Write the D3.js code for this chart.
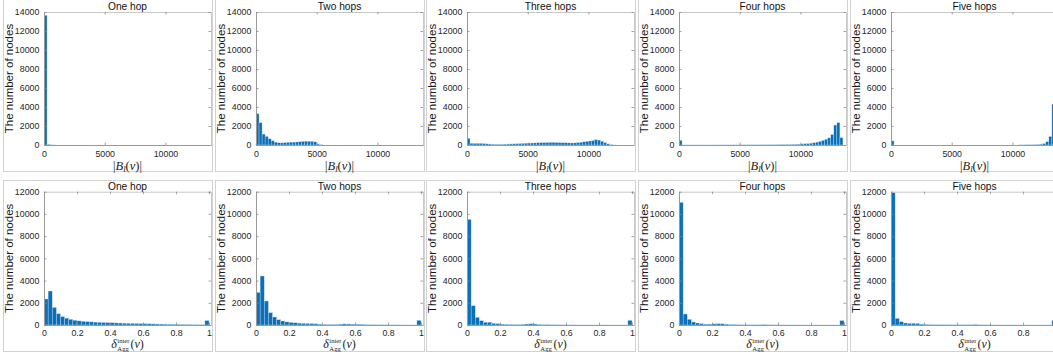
<!DOCTYPE html>
<html>
<head>
<meta charset="utf-8">
<script src="https://cdn.jsdelivr.net/npm/d3@7"></script>
<style>
  body { margin: 0; background: #fff; }
  svg { display: block; }
  text.sans { font-family: "Liberation Sans", Arial, Helvetica, sans-serif; }
</style>
</head>
<body>
<script>
// Panel titles, shared by both rows
var hopTitles = ["One hop", "Two hops", "Three hops", "Four hops", "Five hops"];

// Top row: histogram of |B_l(v)|, bins of 250 nodes starting at 0
var sizeBinWidth = 250;
var sizeMax = 13752;
var sizeTicksX = [0, 5000, 10000];
var sizeTicksY = [0, 2000, 4000, 6000, 8000, 10000, 12000, 14000];

var oneHopSize = [13650, 70, 15, 5];
var twoHopSize = [3300, 2350, 1150, 900, 650, 450, 300, 230, 220, 250, 280, 300, 300, 320, 350,
    380, 400, 400, 380, 330, 100, 30];
var threeHopSize = [700, 180, 160, 170, 170, 150, 120, 100, 90, 80, 80, 80, 90, 100, 110, 120,
    130, 150, 170, 190, 200, 210, 220, 230, 240, 250, 260, 270, 270, 260, 250, 240, 230, 220,
    210, 220, 250, 280, 330, 380, 420, 460, 560, 520, 400, 250, 120, 40, 10];
var fourHopSize = [480, 10, 8, 8, 6, 6, 6, 6, 6, 6, 8, 8, 8, 8, 10, 10, 10, 12, 12, 14, 14, 16,
    16, 18, 18, 20, 20, 22, 25, 28, 30, 35, 40, 45, 50, 55, 60, 70, 80, 90, 110, 130, 150, 180,
    230, 300, 380, 480, 600, 750, 1100, 2100, 2350, 780];
var fiveHopSize = [430, 0, 0, 0, 0, 0, 0, 0, 0, 0, 0, 0, 0, 0, 0, 0, 0, 0, 0, 0, 0, 0, 0, 0, 0,
    0, 0, 0, 0, 0, 0, 0, 0, 0, 0, 0, 0, 0, 0, 0, 0, 0, 10, 15, 20, 25, 30, 40, 60, 90, 150, 350,
    900, 4300];

// Bottom row: histogram of delta_Agg^inter(v), bins of 0.025
var ratioBinWidth = 0.025;
var ratioMax = 1.012;
var ratioTicksX = [0, 0.2, 0.4, 0.6, 0.8, 1];
var ratioTicksY = [0, 2000, 4000, 6000, 8000, 10000, 12000];

var oneHopRatio = [2340, 3060, 1580, 1020, 760, 620, 510, 430, 370, 330, 300, 280, 260, 240, 225,
    210, 200, 185, 175, 165, 155, 145, 135, 125, 115, 108, 100, 93, 86, 80, 73, 66, 60, 54, 48,
    42, 36, 30, 25, 400];
var twoHopRatio = [2940, 4410, 2160, 1110, 720, 480, 360, 280, 230, 200, 170, 150, 140, 130, 110,
    80, 60, 50, 45, 50, 80, 100, 90, 80, 70, 60, 40, 30, 25, 20, 18, 15, 12, 10, 10, 8, 8, 6, 6,
    420];
var threeHopRatio = [9510, 1740, 690, 390, 250, 250, 160, 120, 80, 60, 45, 40, 40, 60, 90, 110,
    90, 50, 35, 40, 25, 20, 15, 12, 10, 10, 8, 8, 6, 6, 5, 5, 5, 4, 4, 3, 3, 3, 3, 420];
var fourHopRatio = [11040, 990, 510, 270, 180, 120, 80, 80, 100, 120, 110, 80, 50, 40, 30, 20, 20,
    15, 15, 20, 40, 20, 12, 10, 8, 8, 6, 6, 5, 5, 4, 4, 4, 3, 3, 3, 3, 3, 3, 400];
var fiveHopRatio = [11910, 600, 300, 180, 150, 160, 140, 80, 50, 40, 30, 30, 30, 25, 25, 20, 20,
    20, 25, 30, 50, 20, 15, 12, 10, 8, 8, 6, 6, 5, 5, 4, 4, 4, 3, 3, 3, 3, 3, 420];

var sizeCounts = [oneHopSize, twoHopSize, threeHopSize, fourHopSize, fiveHopSize];
var ratioCounts = [oneHopRatio, twoHopRatio, threeHopRatio, fourHopRatio, fiveHopRatio];

// Layout
var axesLeft = [44, 256, 467, 679, 891];
var axesW = 167;
var frameOffset = 41, frameW = 209;
var rows = [
    { top: 12, bottom: 145, frameTop: -1, frameBottom: 171, tickPad: 5.5 },
    { top: 191.7, bottom: 325, frameTop: 180, frameBottom: 351, tickPad: 4.8 }
];
var serif = '"Liberation Serif", "DejaVu Serif", serif';
var sans = '"Liberation Sans", Arial, Helvetica, sans-serif';
var barColor = "#0b70ba";

var svg = d3.select("body").append("svg")
    .attr("width", 1053)
    .attr("height", 356)
    .style("font-family", sans);

function styleAxis(g, lineColor) {
    g.attr("font-family", null).attr("font-size", null);
    g.select(".domain").attr("stroke", lineColor).attr("stroke-width", 1);
    g.selectAll(".tick line").attr("stroke", "#8a8a8a").attr("stroke-width", 0.8);
    g.selectAll(".tick text")
        .attr("fill", "#262626")
        .style("font-family", sans)
        .style("font-size", "8.8px");
}

// |B_l(v)|
function sizeLabel(g, cx, y) {
    var t = g.append("text")
        .attr("x", cx).attr("y", y)
        .attr("text-anchor", "middle")
        .style("font-family", serif)
        .style("font-size", "12.5px")
        .attr("fill", "#222");
    t.append("tspan").text("|");
    t.append("tspan").style("font-style", "italic").text("B");
    t.append("tspan").style("font-style", "italic").style("font-size", "8.7px").attr("dy", 2.5).text("l");
    t.append("tspan").attr("dy", -2.5).text("(");
    t.append("tspan").style("font-style", "italic").text("v");
    t.append("tspan").text(")|");
}

// delta^inter_Agg(v), super and subscript stacked
function ratioLabel(g, cx, y) {
    var lg = g.append("g").attr("fill", "#222");
    var d = lg.append("text").attr("x", 0).attr("y", y)
        .style("font-family", serif)
        .style("font-style", "italic").style("font-size", "12px").text("δ");
    var w0 = d.node().getComputedTextLength() + 0.6;
    var sup = lg.append("text").attr("x", w0).attr("y", y - 5)
        .style("font-family", serif)
        .style("font-size", "6.6px").text("inter");
    var sub = lg.append("text").attr("x", w0).attr("y", y + 2.4)
        .style("font-family", serif)
        .style("font-size", "6.6px").text("Agg");
    var w1 = w0 + Math.max(sup.node().getComputedTextLength(), sub.node().getComputedTextLength()) + 1;
    var p = lg.append("text").attr("x", w1).attr("y", y)
        .style("font-family", serif)
        .style("font-size", "12px");
    p.append("tspan").text("(");
    p.append("tspan").style("font-style", "italic").text("v");
    p.append("tspan").text(")");
    var total = w1 + p.node().getComputedTextLength();
    lg.attr("transform", "translate(" + (cx - total / 2) + ",0)");
}

function drawPanel(r, c, counts, binWidth, xMax, xTicks, yTicks, xFormat) {
    var row = rows[r];
    var x0 = axesLeft[c];
    var g = svg.append("g").attr("class", "panel");

    // figure frame
    g.append("rect")
        .attr("x", x0 - frameOffset + 0.5)
        .attr("y", row.frameTop + 0.5)
        .attr("width", frameW)
        .attr("height", row.frameBottom - row.frameTop)
        .attr("fill", "none")
        .attr("stroke", "#d2d2d2");

    var xScale = d3.scaleLinear().domain([0, xMax]).range([x0, x0 + axesW]);
    var yScale = d3.scaleLinear().domain([0, yTicks[yTicks.length - 1]]).range([row.bottom, row.top]);

    var bins = counts.map(function (v, i) {
        return { lo: i * binWidth, hi: (i + 1) * binWidth, v: v };
    }).filter(function (d) { return d.v > 0; });

    g.append("g").selectAll("rect")
        .data(bins)
        .enter()
        .append("rect")
        .attr("x", function (d) { return xScale(d.lo); })
        .attr("y", function (d) { return yScale(d.v); })
        .attr("width", function (d) { return xScale(d.hi) - xScale(d.lo); })
        .attr("height", function (d) { return yScale(0) - yScale(d.v); })
        .attr("fill", barColor)
        .attr("stroke", "#cfe1f1")
        .attr("stroke-width", 0.35);

    // box: top and right with inward ticks, no labels
    g.append("g")
        .attr("transform", "translate(0," + row.top + ")")
        .call(d3.axisTop(xScale).tickValues(xTicks).tickSizeInner(-2.5).tickSizeOuter(0).tickFormat(""))
        .call(styleAxis, "#c8c8c8");
    g.append("g")
        .attr("transform", "translate(" + (x0 + axesW) + ",0)")
        .call(d3.axisRight(yScale).tickValues(yTicks).tickSizeInner(-2.5).tickSizeOuter(0).tickFormat(""))
        .call(styleAxis, "#c8c8c8");

    // bottom and left axes
    g.append("g")
        .attr("transform", "translate(0," + row.bottom + ")")
        .call(d3.axisBottom(xScale).tickValues(xTicks).tickSizeInner(-2.5).tickSizeOuter(0)
            .tickPadding(row.tickPad).tickFormat(xFormat))
        .call(styleAxis, "#9a9a9a");
    g.append("g")
        .attr("transform", "translate(" + x0 + ",0)")
        .call(d3.axisLeft(yScale).tickValues(yTicks).tickSizeInner(-2.5).tickSizeOuter(0)
            .tickPadding(4.7).tickFormat(d3.format("d")))
        .call(styleAxis, "#9a9a9a");

    // title
    g.append("text")
        .attr("class", "sans")
        .attr("x", x0 + axesW / 2)
        .attr("y", row.top - 2)
        .attr("text-anchor", "middle")
        .style("font-size", "10.2px")
        .attr("fill", "#111")
        .text(hopTitles[c]);

    // y label
    g.append("text")
        .attr("class", "sans")
        .attr("transform", "translate(" + (x0 - 30.7) + "," + ((row.top + row.bottom) / 2) + ") rotate(-90)")
        .attr("text-anchor", "middle")
        .style("font-size", "11.5px")
        .attr("fill", "#1a1a1a")
        .text("The number of nodes");

    return g;
}

for (var c = 0; c < 5; c++) {
    var topPanel = drawPanel(0, c, sizeCounts[c], sizeBinWidth, sizeMax, sizeTicksX, sizeTicksY, d3.format("d"));
    sizeLabel(topPanel, axesLeft[c] + axesW / 2, rows[0].bottom + 24.5);

    var bottomPanel = drawPanel(1, c, ratioCounts[c], ratioBinWidth, ratioMax, ratioTicksX, ratioTicksY,
        function (d) { return String(d); });
    ratioLabel(bottomPanel, axesLeft[c] + axesW / 2, rows[1].bottom + 23.3);
}
</script>
</body>
</html>
